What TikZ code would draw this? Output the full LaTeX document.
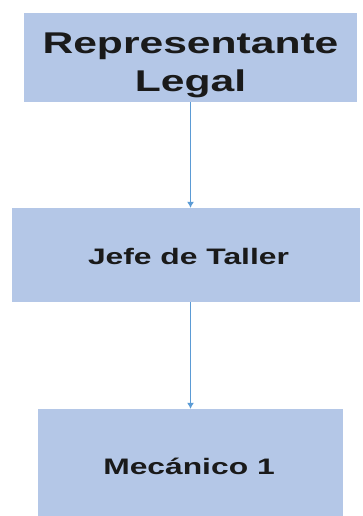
\documentclass[tikz,border=0pt]{standalone}
\usepackage{fontspec}
\newfontfamily\orgfont{Liberation Sans Bold}[FakeStretch=1.42]
\usepackage{tikz}
\usetikzlibrary{arrows.meta}
\definecolor{boxblue}{HTML}{B4C7E7}
\definecolor{linkblue}{HTML}{5B9BD5}
\definecolor{ink}{HTML}{1A1A1A}

\begin{document}
\begin{tikzpicture}[x=1pt, y=-1pt,
    role/.style={fill=boxblue, draw=none, text=ink, align=center, inner sep=0pt},
    label/.style={text=ink, align=center, inner sep=0pt},
    link/.style={draw=linkblue, line width=1pt, -{Latex[length=6pt, width=7pt]}}]

  \useasboundingbox (0,0) rectangle (362,516);

  %% boxes
  \node[role, minimum width=333pt, minimum height=89pt] (legal) at (190.5, 57.5) {};
  \node[role, minimum width=348pt, minimum height=94pt] (jefe) at (186, 255) {};
  \node[role, minimum width=305pt, minimum height=107pt] (mec) at (190.5, 462.5) {};

  %% texts
  \node[label, font=\orgfont\fontsize{30}{38}\selectfont] (legaltxt) at (190.5, 65)
    {Representante\\Legal};
  \node[label, font=\orgfont\fontsize{22.4}{25}\selectfont] (jefetxt) at (188.5, 256)
    {Jefe de Taller};
  \node[label, font=\orgfont\fontsize{22.4}{25}\selectfont] (mectxt) at (189, 466)
    {Mecánico 1};

  %% links
  \draw[link] (legal.south) -- (legal.south |- jefe.north); % legal -> jefe
  \draw[link] (legal.south |- jefe.south) -- (legal.south |- mec.north); % jefe -> mec
\end{tikzpicture}
\end{document}
